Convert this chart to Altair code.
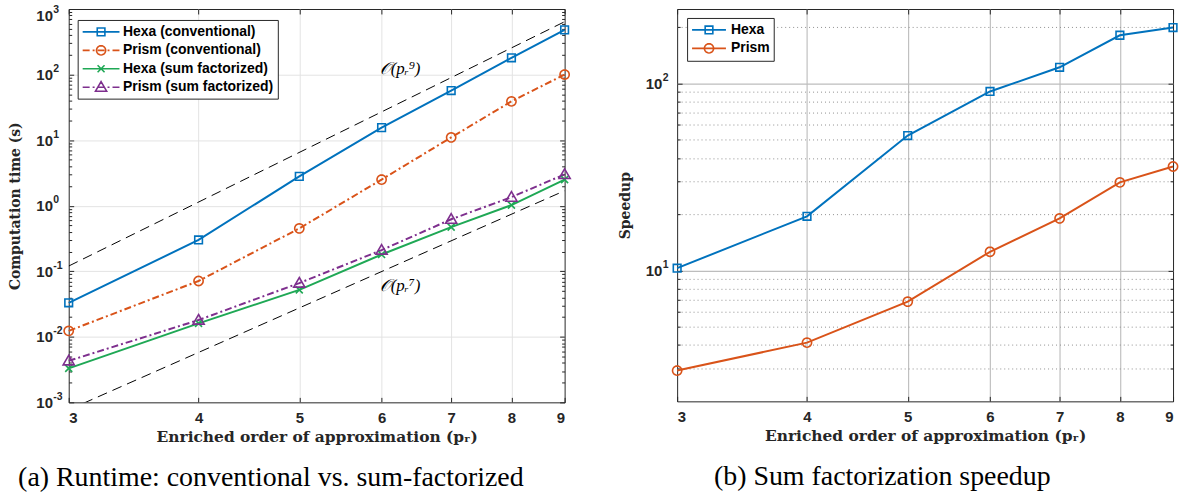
import math
import altair as alt
import pandas as pd

# ---------------- data ----------------
p_r = [3, 4, 5, 6, 7, 8, 9]

series_a = ["Hexa (conventional)", "Prism (conventional)",
            "Hexa (sum factorized)", "Prism (sum factorized)"]
hexa_conv = [0.033, 0.30, 2.8, 15.5, 57, 180, 480]
prism_conv = [0.0123, 0.071, 0.45, 2.5, 11, 39, 100]
hexa_sf = [0.0033, 0.016, 0.052, 0.18, 0.47, 1.02, 2.5]
prism_sf = [0.0043, 0.018, 0.066, 0.21, 0.62, 1.35, 3.0]

guide_p = [3, 9]
guide_p9 = [0.12, 640]
guide_p7 = [0.00077, 1.69]
guide_label_p = [6.25, 6.25]
guide_label_t = [120, 0.06]
guide_labels = ["𝒪(pᵣ⁹)", "𝒪(pᵣ⁷)"]

series_b = ["Hexa", "Prism"]
speedup_hexa = [10.3, 19.5, 52.7, 90.6, 122, 181, 199]
speedup_prism = [2.92, 4.12, 6.82, 12.6, 19.0, 29.6, 36.0]

# ---------------- styling ----------------
BLUE, ORANGE, GREEN, PURPLE = "#0072BD", "#D95319", "#1FA855", "#7E2F8E"
INK = "#262626"
SANS, SERIF, TITLE_SERIF = "Liberation Sans", "Liberation Serif", "DejaVu Serif"


def circle_path(r, n=24):
    pts = [f"{r * math.cos(2 * math.pi * i / n):.3f},{r * math.sin(2 * math.pi * i / n):.3f}"
           for i in range(n)]
    return "M" + "L".join(pts) + "Z"


SQUARE = "M-0.55,-0.55H0.55V0.55H-0.55Z"
CIRCLE = circle_path(0.66)
XMARK = "M-0.5,-0.5L0.5,0.5M-0.5,0.5L0.5,-0.5"
TRIANGLE = "M0,-0.8L0.8,0.58L-0.8,0.58Z"

SOLID_A = "M-2.64,0H2.64"
DASHDOT_A = "M-2.64,0H-1.64M-1.21,0H-0.93M-0.5,0H0.5M0.93,0H1.21M1.64,0H2.64"
SOLID_B = "M-2.43,0H2.43"

colors_a = [BLUE, ORANGE, GREEN, PURPLE]
markers_a = [SQUARE, CIRCLE, XMARK, TRIANGLE]
legend_a = [SOLID_A + SQUARE, DASHDOT_A + CIRCLE, SOLID_A + XMARK, DASHDOT_A + TRIANGLE]
colors_b = [BLUE, ORANGE]
markers_b = [SQUARE, CIRCLE]
legend_b = [SOLID_B + SQUARE, SOLID_B + CIRCLE]

MARK_SIZE = 196
DASHDOT = [7, 3, 2, 3]
TICK_FONT = 15
EXP_FONT = 10.5


def tick_axis(orient, values, size, labels=False, **kw):
    """Inward-pointing ticks: the axis is pulled inside the frame by its tick length."""
    return alt.Axis(orient=orient, values=values, offset=-size, tickSize=size,
                    tickColor=INK, tickWidth=1, domain=False, grid=False,
                    labels=labels, **kw)


def grid_axis(orient, values, color, dash=None):
    kw = dict(gridDash=dash) if dash else {}
    return alt.Axis(orient=orient, values=values, grid=True, gridColor=color, gridWidth=1,
                    ticks=False, labels=False, domain=False, title=None, **kw)


def mantissa_kw(pad, title, top_value, top_shift):
    """'10' part of the power-of-ten labels, left-aligned at a fixed distance from the frame.
    The label on the top edge is nudged down so it stays inside the figure."""
    return dict(labelExpr="'10'", labelAlign="left", labelPadding=pad,
                labelOffset={"condition": {"test": f"datum.value >= {top_value}",
                                           "value": top_shift}, "value": 0},
                labelFont=SANS, labelFontWeight="bold", labelFontSize=TICK_FONT,
                labelColor=INK, title=title, titleFont=TITLE_SERIF, titleFontWeight="bold",
                titleFontSize=14, titleColor=INK, titlePadding=13)


def exponent_axis(values, expr, pad, top_value, top_shift):
    """Raised exponent written right after the '10' of each decade label."""
    return alt.Axis(orient="left", values=values, ticks=True, tickSize=0, tickOpacity=0,
                    domain=False, grid=False, labelExpr=expr, labelAlign="left",
                    labelPadding=pad,
                    labelOffset={"condition": {"test": f"datum.value >= {top_value}",
                                               "value": top_shift - 6}, "value": -6},
                    labelFont=SANS, labelFontWeight="bold",
                    labelFontSize=EXP_FONT, labelColor=INK, title=None)


x_scale = alt.Scale(type="log", domain=[3, 9], nice=False)
x_title = "Enriched order of approximation (pᵣ)"
x_label_kw = dict(labelFont=SANS, labelFontWeight="bold", labelFontSize=TICK_FONT,
                  labelColor=INK, labelPadding=8, labelOverlap=False, format="d",
                  title=x_title, titleFont=TITLE_SERIF, titleFontWeight="bold",
                  titleFontSize=15.5, titleColor=INK, titlePadding=4)


def legend_params(x, y, offset_sym, offset_lab):
    return alt.Legend(orient="none", legendX=x, legendY=y, title=None,
                      strokeColor=INK, fillColor="white", padding=4, cornerRadius=0,
                      symbolSize=MARK_SIZE, symbolStrokeWidth=1.6, symbolOffset=offset_sym,
                      labelOffset=offset_lab, labelFont=SANS, labelFontSize=14,
                      labelFontWeight="bold", labelColor="black", rowPadding=2.5,
                      symbolFillColor="transparent")


# ---------------- panel (a): runtime ----------------
runtime = pd.DataFrame({
    "p": p_r * 4,
    "t": hexa_conv + prism_conv + hexa_sf + prism_sf,
    "series": [s for s in series_a for _ in p_r],
})
runtime["colour"] = runtime["series"].map(dict(zip(series_a, colors_a)))
runtime["marker"] = runtime["series"].map(dict(zip(series_a, markers_a)))
solid_rt = runtime[runtime["series"].str.startswith("Hexa")]
dashdot_rt = runtime[runtime["series"].str.startswith("Prism")]

guides = pd.DataFrame({
    "p": guide_p * 2,
    "t": guide_p9 + guide_p7,
    "order": ["p9", "p9", "p7", "p7"],
})
guide_text = pd.DataFrame({"p": guide_label_p, "t": guide_label_t, "label": guide_labels})

y_scale_a = alt.Scale(type="log", domain=[1e-3, 1e3], nice=False)
decades_a = [1e-3, 1e-2, 1e-1, 1, 10, 100, 1000]
minor_a = [k * 10.0 ** d for d in range(-3, 3) for k in range(2, 10)]
exp_a = "['-3','-2','-1','0','1','2','3'][round(log(datum.value)/LN10)+3]"

a_lines_solid = alt.Chart(solid_rt).mark_line(strokeWidth=2).encode(
    x=alt.X("p:Q", scale=x_scale, axis=tick_axis("bottom", p_r, 5, labels=True, **x_label_kw)),
    y=alt.Y("t:Q", scale=y_scale_a,
            axis=tick_axis("left", decades_a, 5, labels=True,
                           **mantissa_kw(33, "Computation time (s)", 999, 7))),
    color=alt.Color("colour:N", scale=None),
    detail="series:N",
)
a_lines_dashdot = alt.Chart(dashdot_rt).mark_line(strokeWidth=2, strokeDash=DASHDOT).encode(
    x=alt.X("p:Q", scale=x_scale, axis=grid_axis("bottom", p_r[1:-1], "#e3e3e3")),
    y=alt.Y("t:Q", scale=y_scale_a, axis=grid_axis("left", decades_a[1:-1], "#e3e3e3")),
    color=alt.Color("colour:N", scale=None),
    detail="series:N",
)
a_markers = alt.Chart(runtime).mark_point(size=MARK_SIZE, strokeWidth=1.6, filled=False,
                                          opacity=1).encode(
    x=alt.X("p:Q", scale=x_scale, axis=tick_axis("top", p_r, 5, title=None)),
    y=alt.Y("t:Q", scale=y_scale_a, axis=tick_axis("left", minor_a, 3, title=None)),
    color=alt.Color("colour:N", scale=None),
    shape=alt.Shape("marker:N", scale=None),
)
a_guides = alt.Chart(guides).mark_line(color="black", strokeWidth=1, strokeDash=[10, 6],
                                       clip=True).encode(
    x=alt.X("p:Q", scale=x_scale, axis=None),
    y=alt.Y("t:Q", scale=y_scale_a, axis=tick_axis("right", decades_a, 5, title=None)),
    detail="order:N",
)
a_text_hi = alt.Chart(guide_text.iloc[[0]]).mark_text(
    font=SERIF, fontStyle="italic", fontSize=17, color="black").encode(
    x=alt.X("p:Q", scale=x_scale, axis=None),
    y=alt.Y("t:Q", scale=y_scale_a, axis=tick_axis("right", minor_a, 3, title=None)),
    text="label:N",
)
a_text_lo = alt.Chart(guide_text.iloc[[1]]).mark_text(
    font=SERIF, fontStyle="italic", fontSize=17, color="black").encode(
    x=alt.X("p:Q", scale=x_scale, axis=None),
    y=alt.Y("t:Q", scale=y_scale_a, axis=exponent_axis(decades_a, exp_a, 16, 999, 7)),
    text="label:N",
)
leg_a = legend_params(9, 11, 11.5, 14)
# legend-only layer: no rows pass the filter, the explicit scale domains feed the legend
a_legend = alt.Chart(runtime).transform_filter("false").mark_point(
    size=MARK_SIZE, strokeWidth=1.6, filled=False, opacity=1).encode(
    x=alt.X("p:Q", scale=x_scale, axis=None),
    y=alt.Y("t:Q", scale=y_scale_a, axis=None),
    color=alt.Color("series:N", scale=alt.Scale(domain=series_a, range=colors_a), legend=leg_a),
    shape=alt.Shape("series:N", scale=alt.Scale(domain=series_a, range=legend_a), legend=leg_a),
)

panel_a = alt.layer(
    a_lines_dashdot, a_lines_solid, a_guides, a_markers, a_text_hi, a_text_lo, a_legend
).properties(
    width=498, height=395,
    title=alt.TitleParams("(a) Runtime: conventional vs. sum-factorized", orient="bottom",
                          font=SERIF, fontSize=28, fontWeight="normal", color="black",
                          anchor="middle", offset=20, dx=-46),
)

# ---------------- panel (b): speedup ----------------
speed = pd.DataFrame({
    "p": p_r * 2,
    "s": speedup_hexa + speedup_prism,
    "series": [s for s in series_b for _ in p_r],
})
speed["colour"] = speed["series"].map(dict(zip(series_b, colors_b)))
speed["marker"] = speed["series"].map(dict(zip(series_b, markers_b)))
speed_hexa = speed[speed["series"] == "Hexa"]
speed_prism = speed[speed["series"] == "Prism"]

y_scale_b = alt.Scale(type="log", domain=[2, 250], nice=False)
decades_b = [10, 100]
minor_b = [3, 4, 5, 6, 7, 8, 9, 20, 30, 40, 50, 60, 70, 80, 90, 200]
exp_b = "['1','2'][round(log(datum.value)/LN10)-1]"

y_labels_b = alt.Axis(orient="left", values=decades_b, offset=-5, tickSize=5, tickColor=INK,
                      domain=False, grid=True, gridColor="#bdbdbd", gridWidth=1.2,
                      **mantissa_kw(32, "Speedup", 1e9, 0))
y_minor_b = alt.Axis(orient="left", values=minor_b, offset=-3, tickSize=3, tickColor=INK,
                     domain=False, grid=True, gridColor="#8f8f8f", gridDash=[1, 3],
                     gridWidth=1, labels=False, title=None)

b_line_hexa = alt.Chart(speed_hexa).mark_line(strokeWidth=2).encode(
    x=alt.X("p:Q", scale=x_scale, axis=tick_axis("bottom", p_r, 5, labels=True, **x_label_kw)),
    y=alt.Y("s:Q", scale=y_scale_b, axis=y_labels_b),
    color=alt.Color("colour:N", scale=None),
)
b_line_prism = alt.Chart(speed_prism).mark_line(strokeWidth=2).encode(
    x=alt.X("p:Q", scale=x_scale, axis=grid_axis("bottom", p_r[1:-1], "#b3b3b3")),
    y=alt.Y("s:Q", scale=y_scale_b, axis=y_minor_b),
    color=alt.Color("colour:N", scale=None),
)
b_pts_hexa = alt.Chart(speed_hexa).mark_point(size=MARK_SIZE, strokeWidth=1.6, filled=False,
                                              opacity=1).encode(
    x=alt.X("p:Q", scale=x_scale, axis=tick_axis("top", p_r, 5, title=None)),
    y=alt.Y("s:Q", scale=y_scale_b, axis=tick_axis("right", decades_b, 5, title=None)),
    color=alt.Color("colour:N", scale=None),
    shape=alt.Shape("marker:N", scale=None),
)
b_pts_prism = alt.Chart(speed_prism).mark_point(size=MARK_SIZE, strokeWidth=1.6, filled=False,
                                                opacity=1).encode(
    x=alt.X("p:Q", scale=x_scale, axis=None),
    y=alt.Y("s:Q", scale=y_scale_b, axis=tick_axis("right", minor_b, 3, title=None)),
    color=alt.Color("colour:N", scale=None),
    shape=alt.Shape("marker:N", scale=None),
)
leg_b = legend_params(10, 9, 10, 14)
b_legend = alt.Chart(speed).transform_filter("false").mark_point(
    size=MARK_SIZE, strokeWidth=1.6, filled=False, opacity=1).encode(
    x=alt.X("p:Q", scale=x_scale, axis=None),
    y=alt.Y("s:Q", scale=y_scale_b, axis=exponent_axis(decades_b, exp_b, 15, 1e9, 0)),
    color=alt.Color("series:N", scale=alt.Scale(domain=series_b, range=colors_b), legend=leg_b),
    shape=alt.Shape("series:N", scale=alt.Scale(domain=series_b, range=legend_b), legend=leg_b),
)

panel_b = alt.layer(
    b_line_hexa, b_line_prism, b_pts_hexa, b_pts_prism, b_legend
).properties(
    width=498, height=394,
    title=alt.TitleParams("(b) Sum factorization speedup", orient="bottom",
                          font=SERIF, fontSize=28, fontWeight="normal", color="black",
                          anchor="middle", offset=20, dx=-43),
)

chart = alt.hconcat(panel_a, panel_b, spacing=43).resolve_scale(
    color="independent", shape="independent"
).resolve_legend(
    color="independent", shape="independent"
).configure_view(
    stroke=INK, strokeWidth=1
).properties(
    padding={"left": 8, "top": 3, "right": 0, "bottom": 0},
    background="white",
)

chart.save("out.html", embed_options={"renderer": "svg", "actions": False})
